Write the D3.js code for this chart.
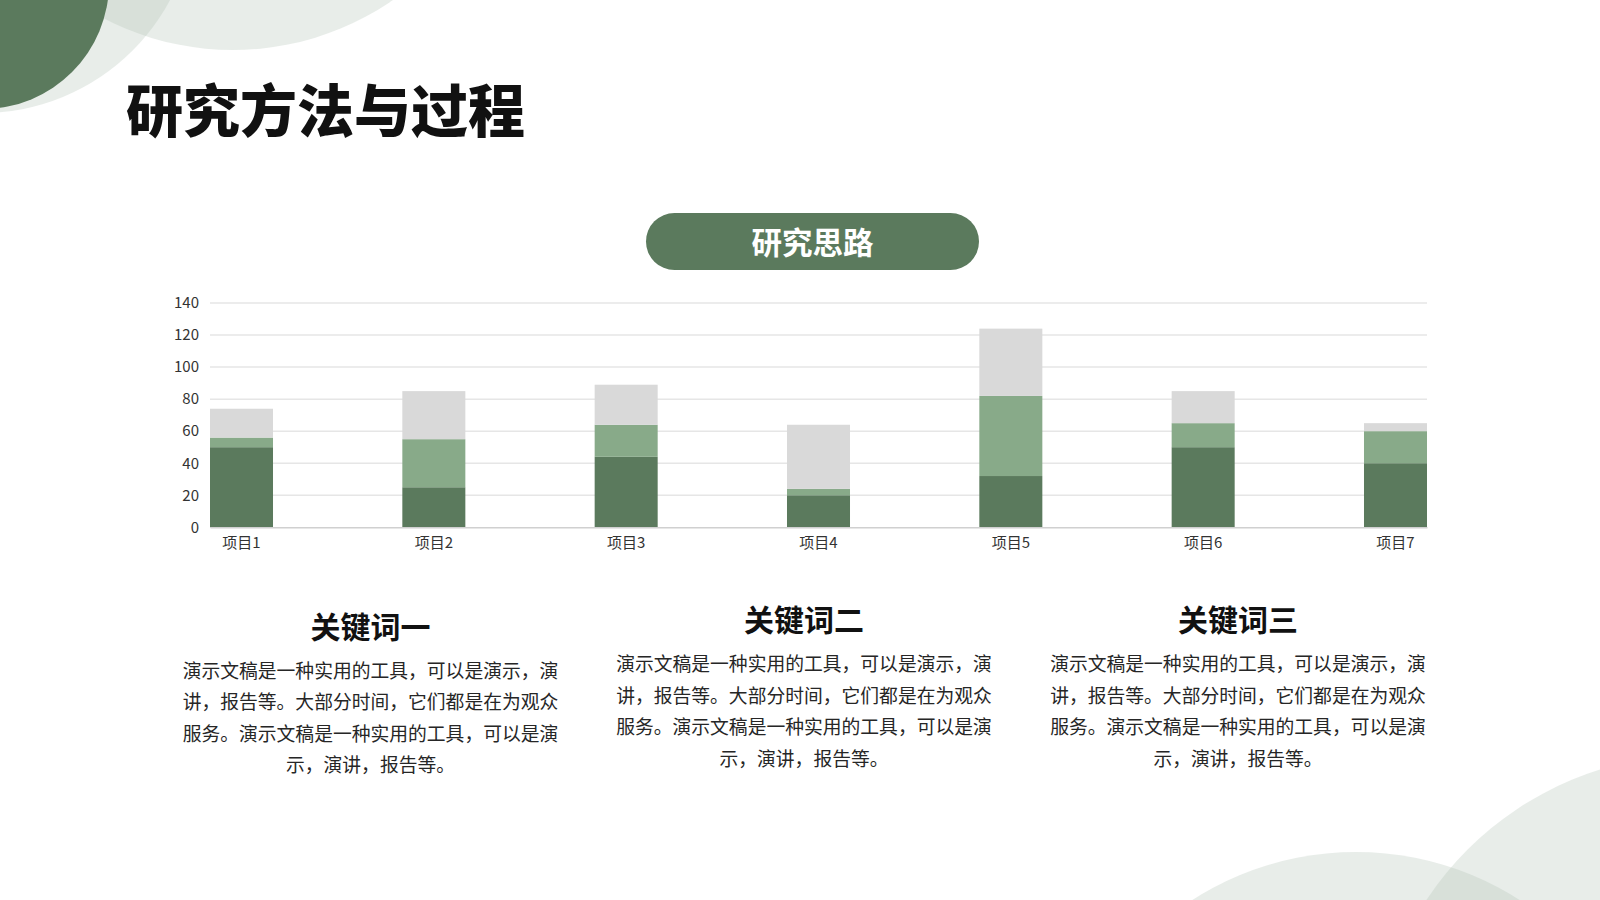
<!DOCTYPE html>
<html>
<head>
<meta charset="utf-8">
<script src="https://cdn.jsdelivr.net/npm/d3@7/dist/d3.min.js"></script>
<style>
  html, body { margin: 0; padding: 0; background: #ffffff; }
  svg { display: block; }
</style>
</head>
<body>
<svg id="chart" width="1600" height="900"></svg>
<script>
// ---- data ----
const categories = ["项目1", "项目2", "项目3", "项目4", "项目5", "项目6", "项目7"];
const seriesDark = [50, 25, 44, 20, 32, 50, 40];
const seriesMid  = [6, 30, 20, 4, 50, 15, 20];
const seriesGray = [18, 30, 25, 40, 42, 20, 5];
const yTicks = [0, 20, 40, 60, 80, 100, 120, 140];

const titleText = "研究方法与过程";
const pillText = "研究思路";
const keywordTitles = ["关键词一", "关键词二", "关键词三"];
const bodyLines = [
  "演示文稿是一种实用的工具，可以是演示，演",
  "讲，报告等。大部分时间，它们都是在为观众",
  "服务。演示文稿是一种实用的工具，可以是演",
  "示，演讲，报告等。"
];

// ---- styles ----
const FONT = "'Noto Sans CJK SC', 'Noto Sans', sans-serif";
const colors = ["#5b7a5d", "#88aa89", "#d9d9d9"];
const green = "#5b7a5d";

const svg = d3.select("#chart");

// ---- background decorations ----
const deco = svg.append("g");
const tint = "#b3c4b6";
deco.append("circle").attr("cx", 233).attr("cy", -231).attr("r", 281).attr("fill", tint).attr("opacity", 0.3);
deco.append("circle").attr("cx", -18).attr("cy", -100).attr("r", 213).attr("fill", tint).attr("opacity", 0.3);
deco.append("circle").attr("cx", -17).attr("cy", -17).attr("r", 126).attr("fill", green);
deco.append("circle").attr("cx", 1356).attr("cy", 1155).attr("r", 303).attr("fill", tint).attr("opacity", 0.3);
deco.append("circle").attr("cx", 1696).attr("cy", 1078).attr("r", 323).attr("fill", tint).attr("opacity", 0.3);

// ---- title ----
svg.append("text")
  .attr("x", 126).attr("y", 132)
  .attr("font-family", FONT).attr("font-weight", 900)
  .attr("font-size", 57).attr("fill", "#111111")
  .text(titleText);

// ---- pill ----
svg.append("rect")
  .attr("x", 646).attr("y", 213).attr("width", 333).attr("height", 57)
  .attr("rx", 28.5).attr("fill", green);
svg.append("text")
  .attr("x", 812.5).attr("y", 240.5)
  .attr("text-anchor", "middle").attr("dominant-baseline", "central")
  .attr("font-family", FONT).attr("font-weight", 700)
  .attr("font-size", 30.5).attr("fill", "#ffffff")
  .text(pillText);

// ---- chart ----
const plotLeft = 210, plotRight = 1427, plotTop = 303, plotBottom = 527.3;
const x = d3.scaleBand().domain(categories).range([plotLeft, plotRight])
  .paddingInner(0.6724).paddingOuter(0);
const y = d3.scaleLinear().domain([0, 140]).range([plotBottom, plotTop]);

const g = svg.append("g");

// gridlines
g.append("g").selectAll("line").data(yTicks.filter(d => d > 0)).join("line")
  .attr("x1", plotLeft).attr("x2", plotRight)
  .attr("y1", d => y(d)).attr("y2", d => y(d))
  .attr("stroke", "#e6e6e6").attr("stroke-width", 1.5);

// y axis labels
const yAxis = d3.axisLeft(y).tickValues(yTicks).tickSize(0).tickPadding(11);
const yg = g.append("g").attr("transform", `translate(${plotLeft},0)`).call(yAxis);
yg.select(".domain").remove();
yg.selectAll("text").attr("font-family", FONT).attr("font-size", 15).attr("fill", "#333333");

// stacked bars
const rows = categories.map((c, i) => ({ cat: c, dark: seriesDark[i], mid: seriesMid[i], gray: seriesGray[i] }));
const stack = d3.stack().keys(["dark", "mid", "gray"]);
const stacked = stack(rows);
g.append("g").selectAll("g").data(stacked).join("g")
  .attr("fill", (d, i) => colors[i])
  .selectAll("rect").data(d => d).join("rect")
  .attr("x", d => x(d.data.cat))
  .attr("width", x.bandwidth())
  .attr("y", d => y(d[1]))
  .attr("height", d => y(d[0]) - y(d[1]));

// x axis
const xAxis = d3.axisBottom(x).tickSize(0).tickPadding(10);
const xg = g.append("g").attr("transform", `translate(0,${plotBottom})`).call(xAxis);
xg.select(".domain").attr("stroke", "#d0d0d0").attr("stroke-width", 1.5);
xg.selectAll("text").attr("font-family", FONT).attr("font-size", 15).attr("fill", "#333333");

// ---- keyword columns ----
const colCenters = [370.5, 804, 1238];
const colOffsets = [6.5, 0, 0];
colCenters.forEach((cx, i) => {
  const off = colOffsets[i];
  svg.append("text")
    .attr("x", cx).attr("y", 618 + off)
    .attr("text-anchor", "middle").attr("dominant-baseline", "central")
    .attr("font-family", FONT).attr("font-weight", 700)
    .attr("font-size", 30).attr("fill", "#111111")
    .text(keywordTitles[i]);
  svg.append("g").selectAll("text").data(bodyLines).join("text")
    .attr("x", cx).attr("y", (d, j) => 662.5 + off + j * 31.5)
    .attr("text-anchor", "middle").attr("dominant-baseline", "central")
    .attr("font-family", FONT).attr("font-weight", 400)
    .attr("font-size", 18.8).attr("fill", "#262626")
    .text(d => d);
});
</script>
</body>
</html>
